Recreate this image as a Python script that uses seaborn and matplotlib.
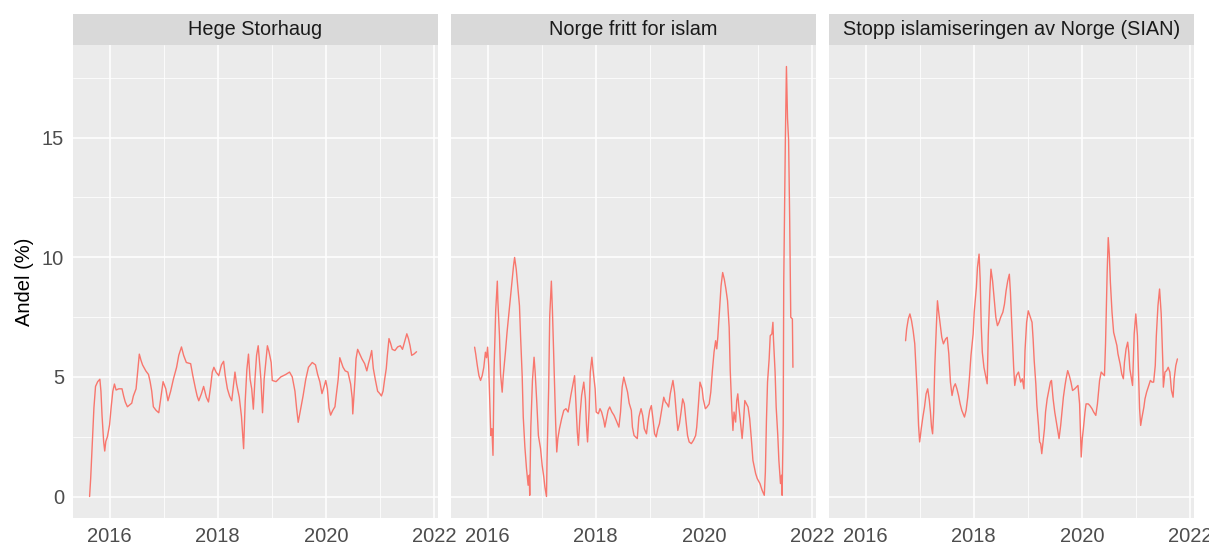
import matplotlib
matplotlib.use("Agg")
import matplotlib.pyplot as plt
import seaborn as sns
import pandas as pd
from matplotlib.patches import Rectangle
from matplotlib.ticker import MultipleLocator

panels = ["Hege Storhaug", "Norge fritt for islam", "Stopp islamiseringen av Norge (SIAN)"]
y_label = "Andel (%)"
x_ticks = [2016, 2018, 2020, 2022]
y_ticks = [0, 5, 10, 15]

hs_year = [2015.63, 2015.65, 2015.68, 2015.71, 2015.74, 2015.78, 2015.82, 2015.84, 2015.86, 2015.89,
           2015.91, 2015.93, 2015.96, 2016.00, 2016.03, 2016.06, 2016.09, 2016.12, 2016.17, 2016.23,
           2016.26, 2016.29, 2016.33, 2016.41, 2016.44, 2016.49, 2016.51, 2016.55, 2016.58, 2016.61,
           2016.67, 2016.72, 2016.75, 2016.78, 2016.81, 2016.86, 2016.91, 2016.95, 2016.99, 2017.04,
           2017.08, 2017.13, 2017.18, 2017.24, 2017.28, 2017.33, 2017.37, 2017.42, 2017.50, 2017.54,
           2017.59, 2017.62, 2017.65, 2017.70, 2017.74, 2017.79, 2017.83, 2017.87, 2017.90, 2017.93,
           2017.97, 2018.02, 2018.07, 2018.11, 2018.14, 2018.18, 2018.22, 2018.26, 2018.29, 2018.32,
           2018.35, 2018.40, 2018.44, 2018.48, 2018.51, 2018.54, 2018.57, 2018.60, 2018.63, 2018.66,
           2018.69, 2018.72, 2018.75, 2018.80, 2018.83, 2018.86, 2018.92, 2018.95, 2018.99, 2019.01,
           2019.08, 2019.17, 2019.26, 2019.33, 2019.38, 2019.43, 2019.46, 2019.49, 2019.54, 2019.58,
           2019.63, 2019.68, 2019.75, 2019.81, 2019.85, 2019.89, 2019.93, 2019.97, 2020.00, 2020.03,
           2020.06, 2020.09, 2020.13, 2020.17, 2020.19, 2020.23, 2020.26, 2020.29, 2020.32, 2020.36,
           2020.41, 2020.46, 2020.49, 2020.50, 2020.54, 2020.56, 2020.59, 2020.63, 2020.67, 2020.72,
           2020.76, 2020.79, 2020.82, 2020.85, 2020.88, 2020.92, 2020.96, 2021.00, 2021.03, 2021.06,
           2021.09, 2021.12, 2021.14, 2021.17, 2021.20, 2021.23, 2021.28, 2021.33, 2021.38, 2021.42,
           2021.45, 2021.50, 2021.53, 2021.56, 2021.59, 2021.63, 2021.68]
hs_val = [0.0, 0.75, 2.2, 3.7, 4.6, 4.8, 4.9, 4.4, 3.4, 2.3,
          1.9, 2.3, 2.5, 3.0, 3.75, 4.4, 4.7, 4.45, 4.5, 4.5,
          4.2, 3.95, 3.75, 3.9, 4.2, 4.5, 5.0, 5.95, 5.7, 5.5,
          5.25, 5.1, 4.8, 4.4, 3.75, 3.6, 3.5, 4.15, 4.8, 4.5,
          4.0, 4.4, 4.9, 5.4, 5.9, 6.25, 5.9, 5.6, 5.55, 5.05,
          4.5, 4.2, 4.0, 4.3, 4.6, 4.15, 3.95, 4.6, 5.2, 5.4,
          5.2, 5.05, 5.5, 5.65, 5.05, 4.5, 4.2, 4.0, 4.6, 5.2,
          4.7, 4.15, 3.35, 2.0, 4.0, 5.3, 5.95, 4.9, 4.5, 3.65,
          4.9, 5.9, 6.3, 4.9, 3.5, 4.9, 6.3, 6.05, 5.6, 4.85,
          4.8, 5.0, 5.1, 5.2, 5.0, 4.4, 3.7, 3.1, 3.7, 4.2,
          4.9, 5.4, 5.6, 5.5, 5.1, 4.8, 4.3, 4.6, 4.85, 4.5,
          3.7, 3.4, 3.6, 3.75, 4.15, 4.9, 5.8, 5.6, 5.4, 5.25,
          5.2, 4.7, 4.1, 3.45, 4.85, 5.75, 6.15, 5.95, 5.75, 5.55,
          5.25, 5.55, 5.8, 6.1, 5.35, 4.85, 4.4, 4.3, 4.2, 4.4,
          4.9, 5.35, 5.9, 6.6, 6.4, 6.15, 6.1, 6.25, 6.3, 6.15,
          6.4, 6.8, 6.6, 6.3, 5.9, 5.95, 6.05]

nf_year = [2015.76, 2015.78, 2015.81, 2015.84, 2015.87, 2015.90, 2015.93, 2015.96, 2015.98, 2016.00,
           2016.02, 2016.04, 2016.06, 2016.08, 2016.10, 2016.12, 2016.15, 2016.18, 2016.19, 2016.22,
           2016.24, 2016.27, 2016.29, 2016.33, 2016.36, 2016.39, 2016.42, 2016.45, 2016.48, 2016.50,
           2016.53, 2016.56, 2016.59, 2016.61, 2016.64, 2016.66, 2016.69, 2016.72, 2016.75, 2016.77,
           2016.78, 2016.80, 2016.83, 2016.86, 2016.88, 2016.91, 2016.94, 2016.98, 2017.01, 2017.04,
           2017.06, 2017.09, 2017.10, 2017.13, 2017.15, 2017.18, 2017.20, 2017.23, 2017.26, 2017.28,
           2017.30, 2017.33, 2017.37, 2017.41, 2017.45, 2017.49, 2017.54, 2017.58, 2017.61, 2017.64,
           2017.66, 2017.68, 2017.71, 2017.74, 2017.78, 2017.81, 2017.83, 2017.85, 2017.88, 2017.90,
           2017.93, 2017.95, 2017.99, 2018.01, 2018.05, 2018.08, 2018.11, 2018.15, 2018.17, 2018.20,
           2018.23, 2018.26, 2018.30, 2018.34, 2018.38, 2018.43, 2018.46, 2018.49, 2018.52, 2018.56,
           2018.59, 2018.62, 2018.66, 2018.68, 2018.71, 2018.77, 2018.80, 2018.84, 2018.87, 2018.90,
           2018.94, 2018.97, 2019.00, 2019.03, 2019.06, 2019.09, 2019.12, 2019.15, 2019.18, 2019.21,
           2019.24, 2019.26, 2019.29, 2019.32, 2019.35, 2019.38, 2019.41, 2019.43, 2019.46, 2019.49,
           2019.52, 2019.55, 2019.58, 2019.61, 2019.64, 2019.67, 2019.70, 2019.73, 2019.77, 2019.81,
           2019.85, 2019.87, 2019.90, 2019.93, 2019.97, 2019.99, 2020.03, 2020.06, 2020.10, 2020.13,
           2020.16, 2020.19, 2020.22, 2020.24, 2020.26, 2020.29, 2020.32, 2020.35, 2020.38, 2020.41,
           2020.44, 2020.47, 2020.49, 2020.52, 2020.54, 2020.56, 2020.59, 2020.61, 2020.63, 2020.65,
           2020.67, 2020.71, 2020.73, 2020.76, 2020.79, 2020.82, 2020.85, 2020.88, 2020.91, 2020.96,
           2020.99, 2021.04, 2021.08, 2021.12, 2021.14, 2021.16, 2021.18, 2021.21, 2021.23, 2021.26,
           2021.28, 2021.29, 2021.32, 2021.34, 2021.37, 2021.39, 2021.42, 2021.44, 2021.45, 2021.47,
           2021.48, 2021.51, 2021.53, 2021.55, 2021.57, 2021.59, 2021.61, 2021.64, 2021.65]
nf_val = [6.24, 5.96, 5.47, 5.05, 4.85, 5.05, 5.4, 6.03, 5.8, 6.24,
          5.47, 3.95, 2.55, 2.83, 1.72, 5.33, 7.76, 9.0, 8.18, 6.72,
          5.12, 4.36, 5.05, 6.03, 6.86, 7.55, 8.25, 8.94, 9.64, 9.99,
          9.5, 8.74, 7.97, 6.72, 5.05, 3.32, 2.07, 1.17, 0.47, 0.89,
          0.05, 2.9, 4.85, 5.82, 5.2, 3.95, 2.55, 2.0, 1.3, 0.82,
          0.4, 0.0, 1.51, 4.5, 7.55, 9.0, 7.76, 5.47, 3.04, 1.86,
          2.42, 2.83, 3.25, 3.6, 3.67, 3.53, 4.22, 4.7, 5.05, 3.67,
          2.7, 2.14, 3.39, 4.22, 4.78, 4.08, 2.97, 2.28, 3.67, 5.2,
          5.82, 5.33, 4.5, 3.53, 3.46, 3.67, 3.53, 3.18, 2.9, 3.25,
          3.6, 3.74, 3.53, 3.39, 3.18, 2.9, 3.53, 4.57, 4.99, 4.64,
          4.36, 3.9, 3.6, 2.9, 2.55, 2.42, 3.32, 3.67, 3.39, 2.83,
          2.62, 3.18, 3.6, 3.8, 3.25, 2.62, 2.49, 2.83, 3.04, 3.46,
          3.87, 4.15, 3.95, 3.87, 3.74, 4.29, 4.64, 4.85, 4.36, 3.53,
          2.76, 3.04, 3.53, 4.08, 3.87, 3.18, 2.55, 2.28, 2.21, 2.35,
          2.55, 2.9, 3.8, 4.78, 4.5, 4.08, 3.67, 3.74, 3.87, 4.36,
          5.26, 6.03, 6.51, 6.17, 6.65, 7.76, 8.8, 9.36, 9.08, 8.67,
          8.18, 7.07, 5.26, 3.6, 2.76, 3.53, 3.11, 4.01, 4.29, 3.74,
          3.32, 2.42, 2.97, 4.01, 3.87, 3.74, 3.25, 2.42, 1.51, 0.96,
          0.75, 0.54, 0.26, 0.05, 1.03, 3.18, 4.78, 5.75, 6.72, 6.79,
          7.28, 6.58, 5.2, 3.74, 2.55, 1.51, 0.54, 0.89, 0.05, 2.97,
          8.94, 14.9, 17.97, 15.8, 14.9, 11.58, 7.49, 7.42, 5.4]

sian_year = [2016.74, 2016.76, 2016.79, 2016.82, 2016.85, 2016.88, 2016.91, 2016.93, 2016.96, 2016.98,
             2017.00, 2017.03, 2017.06, 2017.09, 2017.12, 2017.15, 2017.18, 2017.20, 2017.22, 2017.24,
             2017.26, 2017.28, 2017.31, 2017.33, 2017.35, 2017.38, 2017.41, 2017.44, 2017.48, 2017.51,
             2017.54, 2017.57, 2017.60, 2017.63, 2017.66, 2017.69, 2017.72, 2017.75, 2017.78, 2017.83,
             2017.86, 2017.89, 2017.92, 2017.95, 2017.99, 2018.01, 2018.05, 2018.07, 2018.10, 2018.12,
             2018.14, 2018.16, 2018.19, 2018.22, 2018.25, 2018.27, 2018.30, 2018.32, 2018.35, 2018.38,
             2018.41, 2018.44, 2018.47, 2018.50, 2018.54, 2018.57, 2018.60, 2018.63, 2018.66, 2018.68,
             2018.71, 2018.74, 2018.76, 2018.79, 2018.83, 2018.87, 2018.90, 2018.93, 2018.95, 2018.98,
             2019.01, 2019.04, 2019.08, 2019.10, 2019.12, 2019.15, 2019.17, 2019.20, 2019.22, 2019.24,
             2019.26, 2019.28, 2019.31, 2019.33, 2019.36, 2019.39, 2019.42, 2019.44, 2019.47, 2019.50,
             2019.53, 2019.56, 2019.58, 2019.61, 2019.63, 2019.66, 2019.69, 2019.71, 2019.74, 2019.77,
             2019.80, 2019.83, 2019.87, 2019.90, 2019.93, 2019.96, 2019.98, 2019.99, 2020.01, 2020.03,
             2020.06, 2020.08, 2020.12, 2020.15, 2020.19, 2020.22, 2020.26, 2020.29, 2020.31, 2020.33,
             2020.36, 2020.39, 2020.42, 2020.44, 2020.47, 2020.49, 2020.51, 2020.53, 2020.56, 2020.59,
             2020.62, 2020.65, 2020.67, 2020.71, 2020.74, 2020.77, 2020.79, 2020.82, 2020.85, 2020.87,
             2020.89, 2020.92, 2020.94, 2020.97, 2021.00, 2021.03, 2021.05, 2021.07, 2021.09, 2021.11,
             2021.15, 2021.17, 2021.20, 2021.24, 2021.27, 2021.30, 2021.33, 2021.36, 2021.38, 2021.41,
             2021.44, 2021.47, 2021.50, 2021.51, 2021.54, 2021.57, 2021.60, 2021.63, 2021.66, 2021.69,
             2021.71, 2021.74, 2021.77]
sian_val = [6.51, 7.0, 7.42, 7.63, 7.35, 6.93, 6.38, 5.47, 4.15, 2.97,
            2.28, 2.83, 3.32, 3.74, 4.29, 4.5, 4.01, 3.53, 2.9, 2.62,
            3.53, 5.4, 7.14, 8.18, 7.76, 7.21, 6.65, 6.38, 6.58, 6.65,
            5.96, 4.78, 4.22, 4.57, 4.71, 4.5, 4.22, 3.87, 3.6, 3.32,
            3.6, 4.15, 4.92, 5.89, 6.79, 7.7, 8.74, 9.57, 10.13, 9.08,
            7.14, 6.03, 5.4, 5.05, 4.71, 6.72, 8.6, 9.5, 9.01, 8.25,
            7.49, 7.14, 7.28, 7.49, 7.7, 8.04, 8.6, 9.01, 9.29, 8.53,
            6.93, 5.4, 4.64, 5.05, 5.2, 4.78, 4.92, 4.5, 6.1, 7.28,
            7.76, 7.55, 7.28, 6.58, 5.68, 4.71, 3.8, 2.97, 2.28, 2.21,
            1.79, 2.21, 2.83, 3.53, 4.08, 4.43, 4.78, 4.85, 4.08, 3.53,
            3.11, 2.7, 2.42, 2.97, 3.46, 4.15, 4.64, 4.92, 5.26, 5.05,
            4.78, 4.43, 4.5, 4.57, 4.64, 3.87, 2.42, 1.65, 2.42, 2.83,
            3.53, 3.87, 3.87, 3.8, 3.67, 3.53, 3.39, 3.87, 4.36, 4.85,
            5.2, 5.12, 5.05, 6.38, 9.36, 10.82, 10.13, 8.94, 7.7, 6.86,
            6.58, 6.31, 5.96, 5.54, 5.12, 4.92, 5.61, 6.17, 6.45, 6.03,
            5.33, 4.92, 4.64, 6.79, 7.63, 6.72, 5.2, 3.67, 2.97, 3.25,
            3.74, 4.08, 4.36, 4.64, 4.85, 4.78, 4.78, 5.47, 6.72, 7.97,
            8.67, 7.63, 5.61, 4.57, 5.2, 5.26, 5.4, 5.2, 4.43, 4.15,
            4.92, 5.47, 5.75]

df = pd.concat([
    pd.DataFrame({"panel": panels[0], "year": hs_year, "value": hs_val}),
    pd.DataFrame({"panel": panels[1], "year": nf_year, "value": nf_val}),
    pd.DataFrame({"panel": panels[2], "year": sian_year, "value": sian_val}),
], ignore_index=True)

sns.set_theme(style="darkgrid")
plt.rcParams["font.family"] = ["Liberation Sans", "DejaVu Sans"]

W, H = 1209, 545
fig, axes = plt.subplots(1, 3, figsize=(W / 100, H / 100), dpi=100, sharey=True)
left_px, right_px, top_px, bot_px = 73, 1194, 45, 518
panel_w = (right_px - left_px - 2 * 13) / 3
fig.subplots_adjust(left=left_px / W, right=right_px / W,
                    top=1 - top_px / H, bottom=1 - bot_px / H,
                    wspace=13 / panel_w)

xmin, xmax = df["year"].min(), df["year"].max()
xr = xmax - xmin
ymin, ymax = 0.0, df["value"].max()
yr = ymax - ymin

strip_h = 31 / (bot_px - top_px)
for ax, name in zip(axes, panels):
    sub = df[df["panel"] == name]
    sns.lineplot(data=sub, x="year", y="value", ax=ax, color="#F8766D",
                 linewidth=1.0, estimator=None, sort=True)
    ax.set_facecolor("#EBEBEB")
    ax.set_xlim(xmin - 0.05 * xr, xmax + 0.05 * xr)
    ax.set_ylim(ymin - 0.05 * yr, ymax + 0.05 * yr)
    ax.set_xticks(x_ticks)
    ax.set_yticks(y_ticks)
    ax.xaxis.set_minor_locator(MultipleLocator(1))
    ax.yaxis.set_minor_locator(MultipleLocator(2.5))
    ax.grid(which="major", color="white", linewidth=1.1)
    ax.grid(which="minor", color="white", linewidth=0.55)
    ax.set_axisbelow(True)
    for s in ax.spines.values():
        s.set_visible(False)
    ax.tick_params(axis="both", which="major", direction="out", length=4,
                   width=0.8, color="#333333", labelsize=14.5,
                   labelcolor="#4D4D4D", pad=2.5)
    ax.tick_params(axis="both", which="minor", length=0)
    ax.set_xlabel("")
    ax.set_ylabel("")
    ax.add_patch(Rectangle((0, 1), 1, strip_h, transform=ax.transAxes,
                           facecolor="#D9D9D9", edgecolor="none", clip_on=False))
    ax.text(0.5, 1 + strip_h / 2, name, transform=ax.transAxes, ha="center",
            va="center", fontsize=14.3, color="#1A1A1A")

for ax in axes[1:]:
    ax.tick_params(axis="y", which="both", length=0, labelleft=False)

fig.text(25 / W, 1 - ((top_px + bot_px) / 2) / H, y_label, rotation=90,
         ha="center", va="center", fontsize=14.5, color="#000000")

fig.savefig("out.png", dpi=100, facecolor="white")
